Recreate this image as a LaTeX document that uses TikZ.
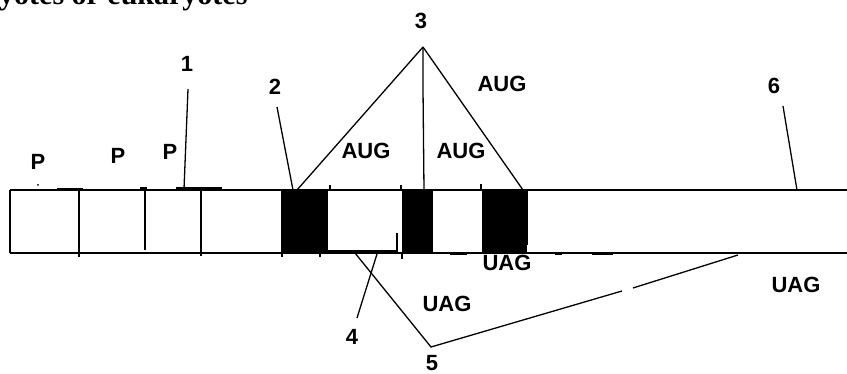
\documentclass[tikz,border=0pt]{standalone}
\usepackage{fontspec}
\setmainfont{Liberation Serif}
\newfontfamily\lblfont{Liberation Sans}
\begin{document}
\begin{tikzpicture}[x=1pt,y=-1pt,
  lbl/.style={font=\lblfont\bfseries\fontsize{22}{22}\selectfont,inner sep=0pt,anchor=center},
  num/.style={font=\lblfont\bfseries\fontsize{22}{22}\selectfont,inner sep=0pt,anchor=center},
  ln/.style={line width=1.3pt,black},
  thick mark/.style={line width=3pt,black}]
\useasboundingbox (0,0) rectangle (847,374);
\begin{scope}
\clip (0,0) rectangle (847,374);
% title (cut at top, as in the reference)
\node[font=\bfseries\fontsize{30}{30}\selectfont,inner sep=0pt,anchor=base west] (title) at (-1,5) {yotes or eukaryotes};
% strip
\draw[ln] (10,190) -- (870,190);
\draw[ln] (10,253) -- (870,253);
\draw[ln] (10,190) -- (10,253);
\draw[ln] (79,190) -- (79,257);
\draw[ln] (145,188) -- (145,250);
\draw[ln] (201,189) -- (201,256);
% thick marks
\draw[thick mark] (57,190) -- (83,190);
\draw[thick mark] (140,189) -- (147,189);
\draw[thick mark] (176,189) -- (222,189);
\draw[thick mark] (450,254) -- (467,254);
\draw[thick mark] (555,254) -- (562,254);
\draw[thick mark] (592,254) -- (613,254);
\fill (38,185) circle (1pt);
% black boxes
\fill (281,189) rectangle (328,254);
\fill (402,189) rectangle (433,254);
\fill (482,189) rectangle (528,245);
\fill (482,245) rectangle (527,254);
% small ticks
\draw[ln] (330,185) -- (330,190);
\draw[ln] (401,185) -- (401,190);
\draw[ln] (481,184) -- (481,190);
\draw[ln] (402,253) -- (402,259);
\draw[ln] (320,253) -- (320,257);
\draw[ln] (282,253) -- (282,257);
\draw[ln] (397,233) -- (397,252);
\draw[ln] (328,251) -- (397,251);
\end{scope}
% labels
\node[num] (n1) at (187,64) {1};
\node[num] (n2) at (275,87) {2};
\node[num] (n3) at (421,21) {3};
\node[num] (n4) at (352,337) {4};
\node[num] (n5) at (432,363) {5};
\node[num] (n6) at (774,86) {6};
\node[lbl] (p1) at (38,162) {P};
\node[lbl] (p2) at (118,156) {P};
\node[lbl] (p3) at (170,152) {P};
\node[lbl] (aug1) at (502,84) {AUG};
\node[lbl] (aug2) at (366,151) {AUG};
\node[lbl] (aug3) at (461,151) {AUG};
\node[lbl] (uag1) at (507,263) {UAG};
\node[lbl] (uag2) at (447,304) {UAG};
\node[lbl] (uag3) at (796,285) {UAG};
% connector end points
\coordinate (c1top) at (188,89);
\coordinate (c1) at (184,189);
\coordinate (c2top) at (277,107);
\coordinate (c2) at (293,190);
\coordinate (apex) at (423,47);
\coordinate (c3a) at (297,190);
\coordinate (c3b) at (424,190);
\coordinate (c3c) at (523,190);
\coordinate (c4top) at (357,318);
\coordinate (c4) at (377,254);
\coordinate (c5apex) at (431,347);
\coordinate (c5a) at (355,253);
\coordinate (gapA) at (622,291);
\coordinate (gapB) at (633,288);
\coordinate (c5b) at (738,255);
\coordinate (c6top) at (783,106);
\coordinate (c6) at (797,190);
% connectors
\draw[ln] (c1top) -- (c1);
\draw[ln] (c2top) -- (c2);
\draw[ln] (apex) -- (c3a);
\draw[ln] (apex) -- (423,88) -- (c3b);
\draw[ln] (apex) -- (c3c);
\draw[ln] (c4top) -- (c4);
\draw[ln] (c5a) -- (c5apex) -- (gapA);
\draw[ln] (gapB) -- (c5b);
\draw[ln] (c6top) -- (c6);
\end{tikzpicture}
\end{document}
